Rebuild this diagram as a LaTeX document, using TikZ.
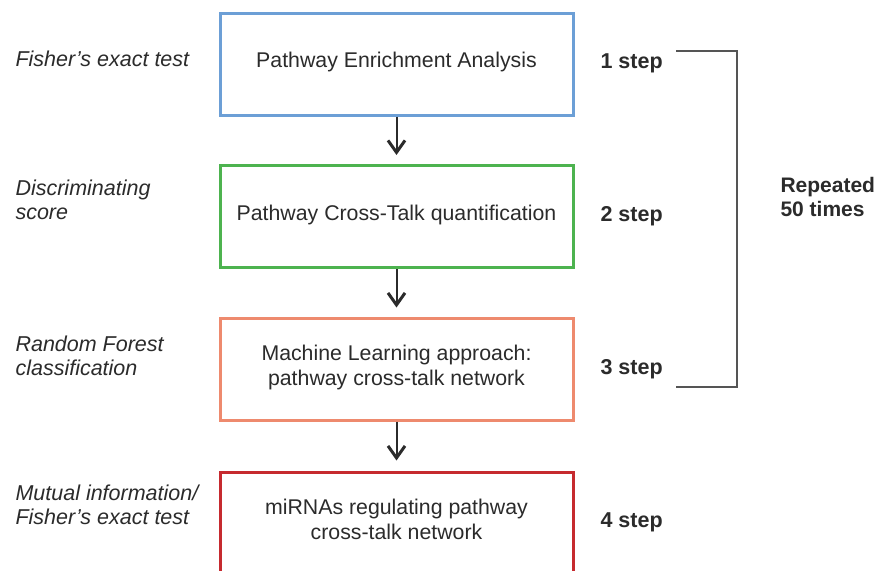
\documentclass[tikz,border=0pt]{standalone}
\usepackage{fontspec}
\setmainfont{Liberation Sans}
\usetikzlibrary{arrows.meta}
\definecolor{txt}{HTML}{2B2B2B}
\definecolor{cblue}{HTML}{6C9FD6}
\definecolor{cgreen}{HTML}{4DB34F}
\definecolor{corange}{HTML}{EE8A6E}
\definecolor{cred}{HTML}{C62A2F}
\definecolor{bracketc}{HTML}{555555}
\tikzset{
  box/.style={draw=#1, line width=3pt, minimum width=353pt, minimum height=102pt, inner sep=0pt},
  boxtext/.style={text=txt, font=\fontsize{21.3}{25}\selectfont, align=center},
  method/.style={text=txt, font=\fontsize{21.5}{24.5}\selectfont\itshape, align=left, anchor=west},
  steplabel/.style={text=txt, font=\fontsize{21.5}{25}\selectfont\bfseries, anchor=west},
  flow/.style={-{Straight Barb[length=12pt,width=17pt,line width=3pt]}, line width=2pt, draw=txt},
}
\begin{document}
\begin{tikzpicture}[x=1pt,y=-1pt]
\useasboundingbox (0,0) rectangle (880,570);
\clip (0,0) rectangle (880,570);
\fill[white] (0,0) rectangle (880,570);
% boxes
\node[box=cblue] (b1) at (396.5,64) {};
\node[box=cgreen] (b2) at (396.5,216.5) {};
\node[box=corange] (b3) at (396.5,369) {};
\node[box=cred] (b4) at (396.5,523) {};
% box texts
\node[boxtext] (t1) at (396.5,62) {Pathway Enrichment Analysis};
\node[boxtext] (t2) at (396.5,215) {Pathway Cross-Talk quantification};
\node[boxtext] (t3) at (396.5,367) {Machine Learning approach:\\pathway cross-talk network};
\node[boxtext] (t4) at (396.5,519) {miRNAs regulating pathway\\cross-talk network};
% arrows (yshift is in page direction: positive = up)
\draw[flow] (b1.south) -- ([yshift=9pt]b2.north);
\draw[flow] (b2.south) -- ([yshift=9pt]b3.north);
\draw[flow] (b3.south) -- ([yshift=10pt]b4.north);
% methods
\node[method] (m1) at (12,59) {Fisher’s exact test};
\node[method] (m2) at (12,200) {Discriminating\\score};
\node[method] (m3) at (12,356) {Random Forest\\classification};
\node[method] (m4) at (12,505) {Mutual information/\\Fisher’s exact test};
% steps
\node[steplabel] (s1) at (597,63) {1 step};
\node[steplabel] (s2) at (597,216) {2 step};
\node[steplabel] (s3) at (597,369) {3 step};
\node[steplabel] (s4) at (597,522) {4 step};
% bracket
\coordinate (bt) at (676,51);
\coordinate (bb) at (676,387);
\draw[bracketc, line width=1.5pt] (bt) -- (737,51) -- (737,387) -- (bb);
\node[steplabel, align=left, font=\fontsize{21}{24}\selectfont\bfseries] (rep) at (777,197) {Repeated\\50 times};
\end{tikzpicture}
\end{document}
